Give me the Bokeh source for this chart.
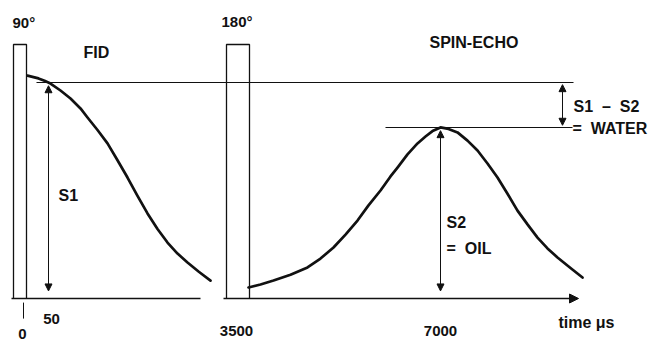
from bokeh.plotting import figure
from bokeh.models import Range1d, Arrow, NormalHead
from bokeh.core.properties import value
from bokeh.embed import file_html
from bokeh.resources import INLINE

# ---- data (schematic x units, y = signal amplitude with S1 = 1) ----
fid_x = [27, 33, 38, 44, 50, 60, 70, 80, 87, 97, 107, 117, 127, 137, 147, 157, 167, 177, 187, 198, 210]
fid_y = [1.032, 1.025, 1.019, 1.008, 0.995, 0.963, 0.926, 0.880, 0.838, 0.780, 0.718, 0.640, 0.560, 0.475, 0.394, 0.322, 0.259, 0.208, 0.167, 0.125, 0.083]

echo_x = [248, 260, 273, 290, 307, 320, 333, 345, 357, 368, 380, 390, 397, 407, 417, 425, 432, 440,
          448, 457, 467, 477, 487, 497, 507, 517, 527, 537, 547, 557, 570, 582]
echo_y = [0.051, 0.065, 0.083, 0.110, 0.144, 0.185, 0.236, 0.296, 0.361, 0.431, 0.500, 0.565, 0.606, 0.667, 0.718, 0.750, 0.775, 0.792,
          0.785, 0.769, 0.731, 0.685, 0.625, 0.560, 0.485, 0.407, 0.343, 0.282, 0.232, 0.190, 0.141, 0.097]

pulse_labels = ["90°", "180°"]
pulse_left = [13, 226]
pulse_right = [26, 249]
pulse_height = 1.176

s1_level = 1.0
s2_level = 0.792

tick_labels = ["0", "50", "3500", "7000"]

# ---- figure ----
W, H = 658, 342
p = figure(width=W, height=H, output_backend="svg", toolbar_location=None,
           x_range=Range1d(0, W), y_range=Range1d((298 - H) / 216, 298 / 216),
           min_border=0, outline_line_color=None)
p.axis.visible = False
p.grid.visible = False
p.background_fill_color = "white"
p.border_fill_color = "white"

INK = "#111111"
FONT = value("Liberation Sans")
NB = "\u00a0"

# pulses (open rectangles standing on the baseline)
for l, r in zip(pulse_left, pulse_right):
    p.line([l, l, r, r], [0, pulse_height, pulse_height, 0], line_color=INK, line_width=1.3)

# baselines
p.line([11, 200], [0, 0], line_color=INK, line_width=1.4)
p.add_layout(Arrow(end=NormalHead(size=9, fill_color=INK, line_color=INK),
                   x_start=223, y_start=0, x_end=578, y_end=0,
                   line_color=INK, line_width=1.4))

# reference level lines
p.line([36, 573], [s1_level, s1_level], line_color=INK, line_width=1.1)
p.line([385, 572], [s2_level, s2_level], line_color=INK, line_width=1.1)

# signal curves
p.line(fid_x, fid_y, line_color=INK, line_width=2.7, line_join="round", line_cap="round")
p.line(echo_x, echo_y, line_color=INK, line_width=2.7, line_join="round", line_cap="round")

# double-headed measurement arrows
def dbl_arrow(x, y0, y1):
    p.add_layout(Arrow(start=NormalHead(size=7, fill_color=INK, line_color=INK),
                       end=NormalHead(size=7, fill_color=INK, line_color=INK),
                       x_start=x, y_start=y0, x_end=x, y_end=y1,
                       line_color=INK, line_width=1.0))

dbl_arrow(48, 0.035, s1_level - 0.015)
dbl_arrow(562, s1_level - 0.01, s2_level + 0.01)
dbl_arrow(440, 0.035, s2_level - 0.015)

# tick under zero
p.line([23, 23], [-0.019, -0.093], line_color=INK, line_width=1.0)

def lab(x, y, t, align="left", size="16px"):
    p.text(x=[x], y=[y], text=[t], text_font=FONT, text_font_size=size,
           text_font_style="bold", text_align=align, text_baseline="middle",
           text_color=INK)

def yp(page_y):
    return (298 - page_y) / 216

lab(12, yp(22), pulse_labels[0], size="15px")
lab(221, yp(21), pulse_labels[1], size="15px")
lab(83, yp(52), "FID")
lab(429, yp(42), "SPIN-ECHO")
lab(58, yp(195), "S1")
lab(573, yp(106), f"S1{NB}{NB}–{NB}{NB}S2")
lab(572, yp(128), f"={NB}{NB}WATER")
lab(446, yp(222), "S2")
lab(446, yp(248), f"={NB}{NB}OIL")

lab(22, yp(333), tick_labels[0], align="center", size="15px")
lab(51, yp(318), tick_labels[1], align="center", size="15px")
lab(236, yp(330), tick_labels[2], align="center", size="15px")
lab(440, yp(330), tick_labels[3], align="center", size="15px")
lab(586, yp(322), "time μs", align="center")

open("out.html", "w").write(file_html(p, INLINE))
